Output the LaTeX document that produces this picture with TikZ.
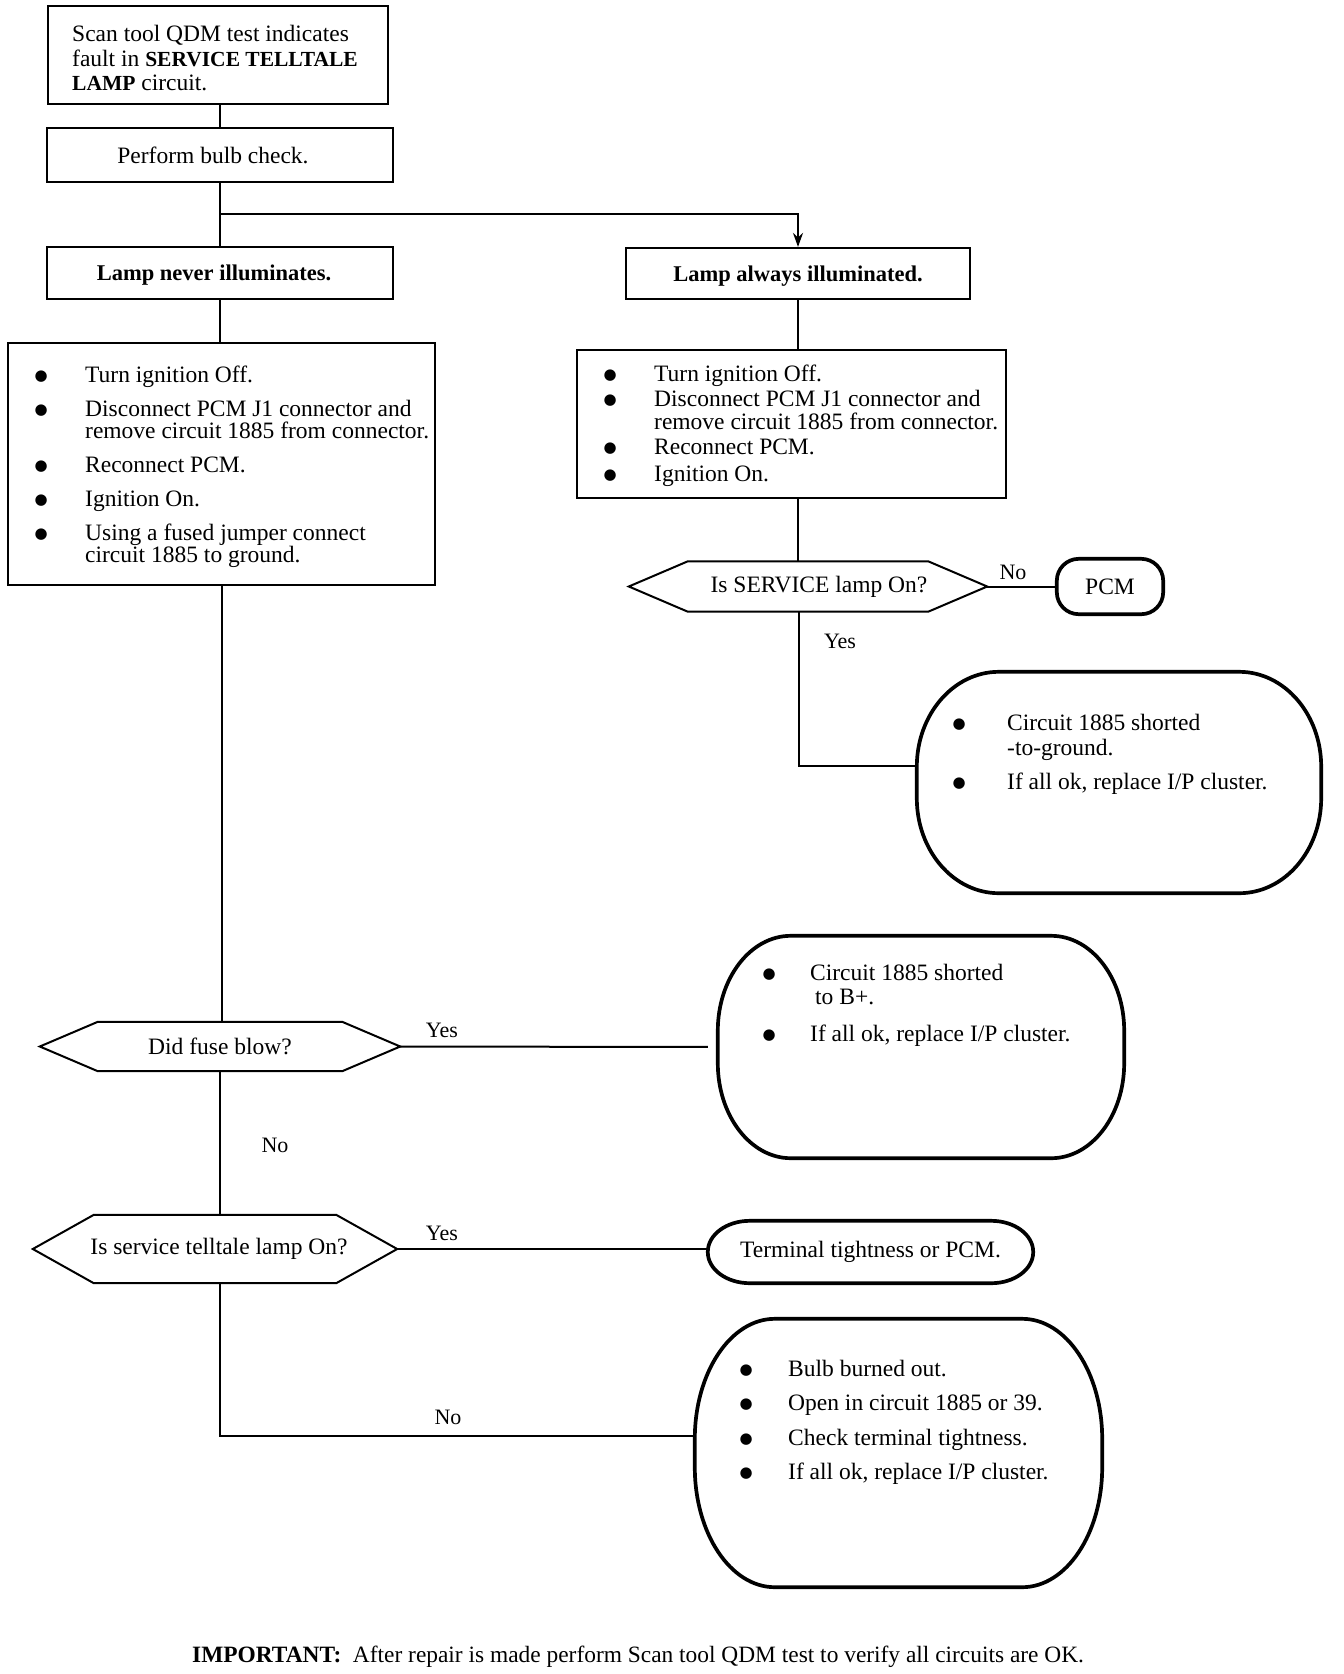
\documentclass[tikz,border=0pt]{standalone}
\usepackage{fontspec}
\setmainfont{Liberation Serif}
\newfontfamily\dejabul{DejaVu Sans}
\usetikzlibrary{calc,arrows.meta}
\newcommand\bodyfont{\fontsize{23.5}{23.5}\selectfont}
\newcommand\bfsmall[1]{{\bfseries\fontsize{21.5}{21.5}\selectfont #1}}
\newcommand\bulitem[1]{\llap{\makebox[12pt]{\raisebox{2pt}{\dejabul\fontsize{15}{15}\selectfont ●}}\hspace{#1pt}}}
\newcommand\hexbox[2]{\draw[hexline] (#1.west) -- ($(#1.north west)+(#2,0)$) -- ($(#1.north east)+(-#2,0)$) -- (#1.east) -- ($(#1.south east)+(-#2,0)$) -- ($(#1.south west)+(#2,0)$) -- cycle;}
\newcommand\rndbox[3]{\draw[roundline] ($(#1.north west)+(#2,0)$) -- ($(#1.north east)+(-#2,0)$)
  arc[start angle=90,end angle=0,x radius=#2pt,y radius=#3pt] -- ($(#1.south east)+(0,-#3)$)
  arc[start angle=0,end angle=-90,x radius=#2pt,y radius=#3pt] -- ($(#1.south west)+(#2,0)$)
  arc[start angle=270,end angle=180,x radius=#2pt,y radius=#3pt] -- ($(#1.north west)+(0,#3)$)
  arc[start angle=180,end angle=90,x radius=#2pt,y radius=#3pt] -- cycle;}
\tikzset{
  frame/.style={draw, line width=2.2pt, inner sep=0pt},
  blank/.style={inner sep=0pt},
  txt/.style={inner sep=0pt, font=\bodyfont, anchor=base west},
  lbl/.style={inner sep=0pt, font=\fontsize{22}{22}\selectfont, anchor=base},
  conn/.style={line width=2pt},
  hexline/.style={line width=2pt},
  roundline/.style={line width=3.7pt},
  titlefont/.style={font=\bfseries\fontsize{22.5}{22.5}\selectfont, text depth=0pt},
}
\begin{document}
\begin{tikzpicture}[x=1pt,y=-1pt]
\useasboundingbox (0,0) rectangle (1344,1674);
\fill[white] (0,0) rectangle (1344,1674);

% top box
\node[frame, minimum width=340pt, minimum height=98pt] (top) at (218,55) {};
\node[txt] (t1) at (72,41) {Scan tool QDM test indicates};
\node[txt] (t2) at (72,66) {fault in \bfsmall{SERVICE TELLTALE}};
\node[txt] (t3) at (72,90) {\bfsmall{LAMP} circuit.};

\node[frame, minimum width=346pt, minimum height=54pt, font=\bodyfont, text depth=0pt] (perform) at (220,155) {Perform bulb check.\hspace*{14pt}};
\node[frame, minimum width=346pt, minimum height=52pt, titlefont] (never) at (220,273) {Lamp never illuminates.\hspace*{12pt}};
\node[frame, minimum width=344pt, minimum height=51pt, titlefont] (always) at (798,273.5) {Lamp always illuminated.};
\coordinate (br) at (220,214);
\draw[conn] (top.south -| perform.north) -- (perform.north);
\draw[conn] (perform.south) -- (never.north);
\draw[conn,-{Stealth[length=14pt,width=10pt]}] (br) -| (always.north);

% left list
\node[frame, minimum width=427pt, minimum height=242pt] (llist) at (221.5,464) {};
\draw[conn] (never.south) -- (never.south |- llist.north);
\node[txt] (l1) at (85,382) {\bulitem{38}Turn ignition Off.};
\node[txt] (l2) at (85,416) {\bulitem{38}Disconnect PCM J1 connector and};
\node[txt] (l3) at (85,438) {remove circuit 1885 from connector.};
\node[txt] (l4) at (85,472) {\bulitem{38}Reconnect PCM.};
\node[txt] (l5) at (85,506) {\bulitem{38}Ignition On.};
\node[txt] (l6) at (85,540) {\bulitem{38}Using a fused jumper connect};
\node[txt] (l7) at (85,562) {circuit 1885 to ground.};

% right list
\node[frame, minimum width=429pt, minimum height=148pt] (rlist) at (791.5,424) {};
\draw[conn] (always.south) -- (always.south |- rlist.north);
\node[txt] (r1a) at (654,381) {\bulitem{38}Turn ignition Off.};
\node[txt] (r1b) at (654,406) {\bulitem{38}Disconnect PCM J1 connector and};
\node[txt] (r1c) at (654,429) {remove circuit 1885 from connector.};
\node[txt] (r1d) at (654,454) {\bulitem{38}Reconnect PCM.};
\node[txt] (r1e) at (654,481) {\bulitem{38}Ignition On.};

% SERVICE decision
\node[blank, minimum width=358pt, minimum height=50pt, font=\bodyfont] (sdiam) at (808,586.5) {\hspace*{22pt}Is SERVICE lamp On?};
\hexbox{sdiam}{59}
\draw[conn] (rlist.south -| always.south) -- (sdiam.north -| always.south);
\node[blank, minimum width=106pt, minimum height=55pt, font=\bodyfont] (pcm) at (1110,586.5) {PCM};
\rndbox{pcm}{22}{22}
\draw[conn] (sdiam.east) -- (pcm.west);
\node[lbl] (noA) at (1013,579) {No};
\node[lbl] (yesA) at (840,648) {Yes};

% R1
\node[blank, minimum width=404pt, minimum height=221pt] (r1) at (1119,782.5) {};
\rndbox{r1}{82}{95}
\coordinate (cy1) at (799,766);
\draw[conn] (sdiam.south -| cy1) -- (cy1) -- (cy1 -| r1.west);
\node[txt] (q1) at (1007,730) {\bulitem{42}Circuit 1885 shorted};
\node[txt] (q2) at (1007,755) {-to-ground.};
\node[txt] (q3) at (1007,789) {\bulitem{42}If all ok, replace I/P cluster.};

% fuse decision
\node[blank, minimum width=360pt, minimum height=49pt, font=\bodyfont] (fuse) at (220,1046.5) {Did fuse blow?};
\hexbox{fuse}{58}
\draw[conn] (llist.south) -- (llist.south |- fuse.north);
\node[blank, minimum width=406pt, minimum height=222pt] (r2) at (921,1047) {};
\rndbox{r2}{73}{95}
\draw[conn, shorten >=10pt] (fuse.east) -- (r2.west);
\node[lbl] (yesB) at (442,1037) {Yes};
\node[txt] (p1) at (810,980) {\bulitem{35}Circuit 1885 shorted};
\node[txt] (p2) at (815,1004) {to B+.};
\node[txt] (p3) at (810,1041) {\bulitem{35}If all ok, replace I/P cluster.};
\node[lbl] (noB) at (275,1152) {No};

% telltale decision
\node[blank, minimum width=364pt, minimum height=68pt, font=\bodyfont] (tell) at (215,1249) {\hspace*{8pt}Is service telltale lamp On?};
\hexbox{tell}{61}
\draw[conn] (fuse.south) -- (fuse.south |- tell.north);
\node[blank, minimum width=325pt, minimum height=62pt, font=\bodyfont] (term) at (870.5,1252) {Terminal tightness or PCM.};
\rndbox{term}{42}{31}
\draw[conn] (tell.east) -- (tell.east -| term.west);
\node[lbl] (yesC) at (442,1240) {Yes};

% R3
\node[blank, minimum width=407pt, minimum height=268pt] (r3) at (898.5,1453) {};
\rndbox{r3}{80}{120}
\coordinate (cy3) at (220,1436);
\draw[conn] (tell.south -| cy3) -- (cy3) -- (cy3 -| r3.west);
\node[lbl] (noC) at (448,1424) {No};
\node[txt] (s1) at (788,1376) {\bulitem{36}Bulb burned out.};
\node[txt] (s2) at (788,1410) {\bulitem{36}Open in circuit 1885 or 39.};
\node[txt] (s3) at (788,1445) {\bulitem{36}Check terminal tightness.};
\node[txt] (s4) at (788,1479) {\bulitem{36}If all ok, replace I/P cluster.};

% footer
\node[anchor=base west, inner sep=0pt, font=\fontsize{23.4}{23.4}\selectfont] (imp) at (192,1662) {\textbf{IMPORTANT:}\ \ After repair is made perform Scan tool QDM test to verify all circuits are OK.};
\end{tikzpicture}
\end{document}
